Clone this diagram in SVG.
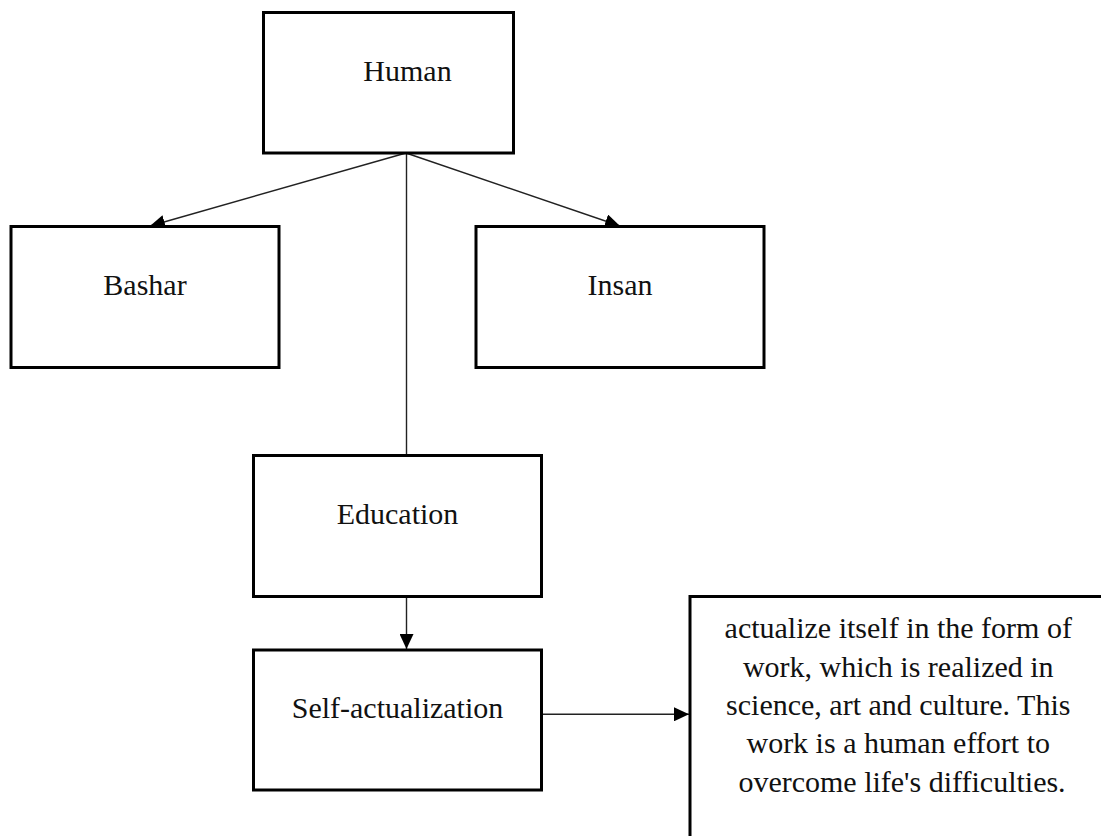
<svg xmlns="http://www.w3.org/2000/svg" width="1101" height="836" viewBox="0 0 1101 836">
  <style>
    .box { fill: #ffffff; stroke: #000000; stroke-width: 3; }
    .lbl { font-family: "Liberation Serif", "Times New Roman", serif; font-size: 30px; fill: #111111; text-anchor: middle; }
    .conn { stroke: #222222; stroke-width: 1.4; fill: none; }
  </style>
  <defs>
    <marker id="arrow" markerUnits="userSpaceOnUse" markerWidth="15" markerHeight="14" refX="15" refY="7" orient="auto">
      <path d="M0,0 L15,7 L0,14 z" fill="#000000"/>
    </marker>
  </defs>
  <rect width="1101" height="836" fill="#ffffff"/>

  <g id="connectors">
    <line class="conn" x1="406" y1="153" x2="150" y2="226" marker-end="url(#arrow)"/>
    <line class="conn" x1="406" y1="153" x2="620" y2="226" marker-end="url(#arrow)"/>
    <line class="conn" x1="406.5" y1="153" x2="406.5" y2="455"/>
    <line class="conn" x1="406.5" y1="597" x2="406.5" y2="649" marker-end="url(#arrow)"/>
    <line class="conn" x1="542" y1="714.3" x2="689" y2="714.3" marker-end="url(#arrow)"/>
  </g>

  <g id="node-human">
    <rect class="box" x="263.5" y="12.5" width="250" height="140.5"/>
    <text class="lbl" x="407.5" y="81">Human</text>
  </g>
  <g id="node-bashar">
    <rect class="box" x="11" y="226.5" width="268" height="141"/>
    <text class="lbl" x="145" y="295">Bashar</text>
  </g>
  <g id="node-insan">
    <rect class="box" x="476" y="226.5" width="288" height="141"/>
    <text class="lbl" x="620" y="295">Insan</text>
  </g>
  <g id="node-education">
    <rect class="box" x="253.5" y="455.5" width="288" height="141"/>
    <text class="lbl" x="397.5" y="524">Education</text>
  </g>
  <g id="node-self-actualization">
    <rect class="box" x="253.5" y="650" width="288" height="140"/>
    <text class="lbl" x="397.5" y="718">Self-actualization</text>
  </g>
  <g id="node-description">
    <rect class="box" x="690" y="596.5" width="424" height="270"/>
    <text class="lbl" x="902">
      <tspan x="902" y="638.3">actualize itself in the form of</tspan>
      <tspan x="902" y="676.7">work, which is realized in</tspan>
      <tspan x="902" y="715">science, art and culture. This</tspan>
      <tspan x="902" y="753.3">work is a human effort to</tspan>
      <tspan x="902" y="791.7">overcome life's difficulties.</tspan>
    </text>
  </g>
</svg>
